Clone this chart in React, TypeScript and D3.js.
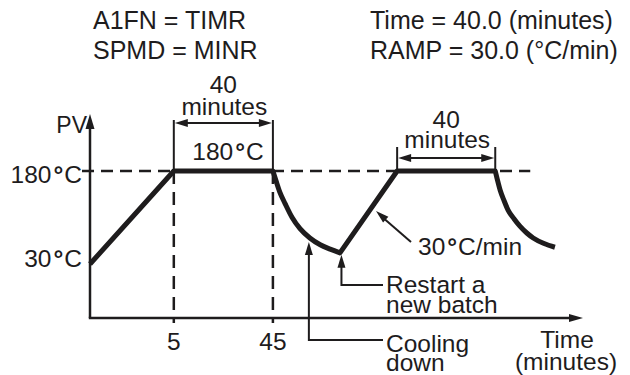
import React from "react";
import * as d3 from "d3";

const W = 630;
const H = 375;

// Header settings
const titleLeft = ["A1FN = TIMR", "SPMD = MINR"];
const titleRight = ["Time = 40.0 (minutes)", "RAMP = 30.0 (°C/min)"];

// Schematic time axis (diagram units, not to scale) vs PV in °C
const ramp1: [number, number][] = [[0, 30], [17.0, 180], [37.1, 180]];
const cooling1: [number, number][] = [
  [37.1, 180], [37.7, 165], [38.5, 146], [39.6, 127], [41.0, 105],
  [42.6, 87], [44.6, 72], [46.7, 61], [48.7, 54], [50.7, 48],
];
const ramp2: [number, number][] = [[50.7, 48], [62.3, 180], [82.2, 180]];
const cooling2: [number, number][] = [
  [82.2, 180], [82.6, 167], [83.2, 149], [84.0, 132], [84.8, 117],
  [86.0, 103], [87.2, 91], [88.6, 80], [89.9, 72], [92.1, 63], [94.3, 57],
];

const xTickPos = [17.0, 37.1];
const xTickLabels = ["5", "45"];
const yTickVals = [180, 30];
const holdStarts = [17.0, 62.3];
const holdEnds = [37.1, 82.2];
const holdText = ["40", "minutes"];
const setpoint = 180;

const FONT = "'Liberation Sans', Arial, Helvetica, sans-serif";
const INK = "#1e1c1d";
const FS = 24.5;

function Head({ x, y, angle, len = 13, half = 4 }: { x: number; y: number; angle: number; len?: number; half?: number }) {
  const c = Math.cos(angle), s = Math.sin(angle);
  const bx = x - len * c, by = y - len * s;
  const p = [
    [x, y],
    [bx - half * s, by + half * c],
    [bx + half * s, by - half * c],
  ];
  return <polygon points={p.map((q) => q.join(",")).join(" ")} fill={INK} />;
}

function Deg({ x, y, num, anchor = "start", size = FS }: { x: number; y: number; num: string; anchor?: string; size?: number }) {
  return (
    <text x={x} y={y} textAnchor={anchor} fontSize={size} fontFamily={FONT} fill={INK}>
      {num}
      <tspan dx={2} fontWeight="bold">°</tspan>
      <tspan dx={1}>C</tspan>
    </text>
  );
}

export default function App() {
  const x = d3.scaleLinear().domain([0, 100]).range([90, 583]);
  const y = d3.scaleLinear().domain([30, 180]).range([264, 171]);
  const axisY = 318;
  const axisTop = 114;

  const lin = d3.line<[number, number]>().x((d) => x(d[0])).y((d) => y(d[1]));
  const mono = d3
    .line<[number, number]>()
    .x((d) => x(d[0]))
    .y((d) => y(d[1]))
    .curve(d3.curveMonotoneX);
  const pvPath =
    (lin(ramp1) || "") +
    (mono(cooling1) || "").replace(/^M/, "L") +
    (lin(ramp2) || "").replace(/^M/, "L") +
    (mono(cooling2) || "").replace(/^M/, "L");

  const yOff = [12, 3];
  const restart = cooling1[cooling1.length - 1];
  const coolPt = cooling1[6];

  return (
    <svg width={W} height={H} style={{ position: "absolute", left: 0, top: 0, background: "#fff" }}>
      <rect width={W} height={H} fill="#fff" />
      {/* header */}
      {titleLeft.map((t, i) => (
        <text key={"l" + i} x={93} y={29 + i * 30} fontSize={25} fontFamily={FONT} fill={INK}>{t}</text>
      ))}
      {titleRight.map((t, i) => (
        <text key={"r" + i} x={370} y={29 + i * 30} fontSize={25} fontFamily={FONT} fill={INK}>{t}</text>
      ))}

      {/* setpoint dashed line */}
      <line x1={82} x2={x(89.3)} y1={y(setpoint)} y2={y(setpoint)} stroke={INK} strokeWidth={2.5} strokeDasharray="12,7" />
      {/* vertical dashed lines at ticks */}
      {xTickPos.map((t, i) => (
        <line key={"vd" + i} x1={x(t)} x2={x(t)} y1={y(setpoint)} y2={axisY + 5} stroke={INK} strokeWidth={2.5} strokeDasharray="13,8" />
      ))}

      {/* axes */}
      <line x1={x(0)} x2={x(0)} y1={axisY} y2={axisTop + 10} stroke={INK} strokeWidth={2.5} />
      <Head x={x(0)} y={axisTop} angle={-Math.PI / 2} len={15} half={4.5} />
      <line x1={x(0) - 1.2} x2={x(100) - 10} y1={axisY} y2={axisY} stroke={INK} strokeWidth={2.5} />
      <Head x={x(100)} y={axisY} angle={0} len={14} half={4} />

      {/* PV curve */}
      <path d={pvPath} fill="none" stroke={INK} strokeWidth={5} strokeLinejoin="round" />

      {/* axis labels */}
      <text x={87} y={133} textAnchor="end" fontSize={23} fontFamily={FONT} fill={INK}>PV</text>
      {yTickVals.map((v, i) => (
        <Deg key={"yt" + i} x={82} y={y(v) + yOff[i]} num={String(v)} anchor="end" />
      ))}
      {xTickPos.map((t, i) => (
        <text key={"xt" + i} x={x(t)} y={350} textAnchor="middle" fontSize={FS} fontFamily={FONT} fill={INK}>{xTickLabels[i]}</text>
      ))}
      <text x={567} y={348} textAnchor="middle" fontSize={FS} fontFamily={FONT} fill={INK}>Time</text>
      <text x={566} y={370} textAnchor="middle" fontSize={FS} fontFamily={FONT} fill={INK}>(minutes)</text>

      {/* hold-time dimensions */}
      {holdStarts.map((s, i) => {
        const e = holdEnds[i];
        const top = i === 0 ? 120 : 147;
        const ay = i === 0 ? 123 : 158;
        const cx = (x(s) + x(e)) / 2;
        const b1 = i === 0 ? 93 : 128;
        const b2 = i === 0 ? 115 : 148;
        return (
          <g key={"hold" + i}>
            <line x1={x(s)} x2={x(s)} y1={top} y2={y(setpoint)} stroke={INK} strokeWidth={2} />
            <line x1={x(e)} x2={x(e)} y1={top} y2={y(setpoint)} stroke={INK} strokeWidth={2} />
            <line x1={x(s) + 8} x2={x(e) - 8} y1={ay} y2={ay} stroke={INK} strokeWidth={2} />
            <Head x={x(s) + 1} y={ay} angle={Math.PI} len={13} half={4} />
            <Head x={x(e) - 1} y={ay} angle={0} len={13} half={4} />
            <text x={cx} y={b1} textAnchor="middle" fontSize={FS} fontFamily={FONT} fill={INK}>{holdText[0]}</text>
            <text x={cx + 1} y={b2} textAnchor="middle" fontSize={FS} fontFamily={FONT} fill={INK}>{holdText[1]}</text>
          </g>
        );
      })}
      <Deg x={228} y={160} num={String(setpoint)} anchor="middle" />

      {/* 30 °C/min annotation */}
      <line x1={411} y1={242} x2={381} y2={216} stroke={INK} strokeWidth={2} />
      <Head x={376} y={211} angle={Math.atan2(211 - 242, 376 - 411)} len={13} half={4} />
      <text x={418} y={255} fontSize={FS} fontFamily={FONT} fill={INK}>
        30<tspan dx={2} fontWeight="bold">°</tspan><tspan dx={1}>C/min</tspan>
      </text>

      {/* Restart annotation */}
      <polyline points={`${x(restart[0]) + 1.5},${y(restart[1]) + 12} ${x(restart[0]) + 1.5},285 383,285`} fill="none" stroke={INK} strokeWidth={2} />
      <Head x={x(restart[0]) + 1.5} y={y(restart[1]) + 2} angle={-Math.PI / 2} len={13} half={4} />
      <text x={386} y={293} fontSize={FS} fontFamily={FONT} fill={INK}>Restart a</text>
      <text x={386} y={313} fontSize={FS} fontFamily={FONT} fill={INK}>new batch</text>

      {/* Cooling annotation */}
      <polyline points={`${x(coolPt[0]) - 1},${y(coolPt[1]) + 14} ${x(coolPt[0]) - 1},340 383,340`} fill="none" stroke={INK} strokeWidth={2} />
      <Head x={x(coolPt[0]) - 1} y={y(coolPt[1]) + 4} angle={-Math.PI / 2} len={13} half={4} />
      <text x={386} y={352} fontSize={FS} fontFamily={FONT} fill={INK}>Cooling</text>
      <text x={386} y={371} fontSize={FS} fontFamily={FONT} fill={INK}>down</text>
    </svg>
  );
}
